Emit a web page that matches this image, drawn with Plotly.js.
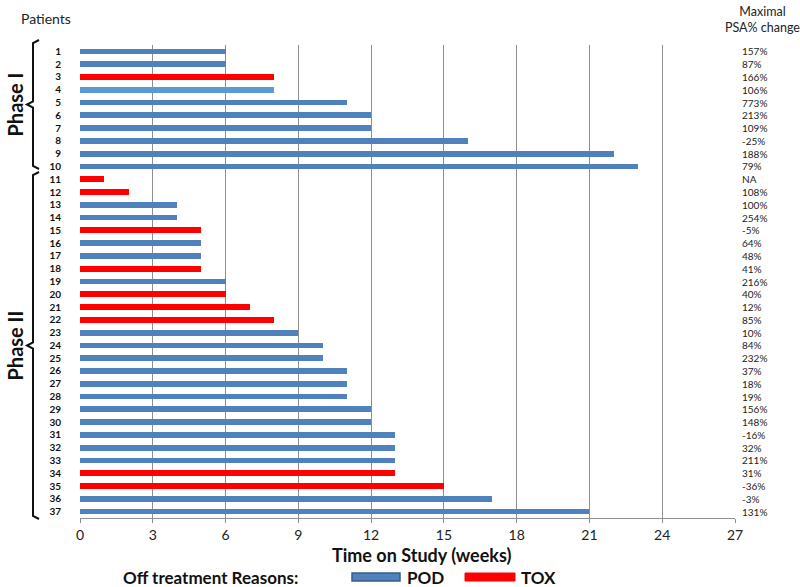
<!DOCTYPE html>
<html>
<head>
<meta charset="utf-8">
<script src="https://cdn.plot.ly/plotly-3.0.1.min.js"></script>
<style>html,body{margin:0;padding:0;background:#fff;}#chart{width:800px;height:587px;}</style>
</head>
<body>
<div id="chart"></div>
<script>
// ---- data ----
const patients = [1,2,3,4,5,6,7,8,9,10,11,12,13,14,15,16,17,18,19,20,21,22,23,24,25,26,27,28,29,30,31,32,33,34,35,36,37];
const weeks = [6,6,8,8,11,12,12,16,22,23,1,2,4,4,5,5,5,5,6,6,7,8,9,10,10,11,11,11,12,12,13,13,13,13,15,17,21];
const reasons = ["POD","POD","TOX","POD","POD","POD","POD","POD","POD","POD","TOX","TOX","POD","POD","TOX","POD","POD","TOX","POD","TOX","TOX","TOX","POD","POD","POD","POD","POD","POD","POD","POD","POD","POD","POD","TOX","TOX","POD","POD"];
const psaChange = ["157%","87%","166%","106%","773%","213%","109%","-25%","188%","79%","NA","108%","100%","254%","-5%","64%","48%","41%","216%","40%","12%","85%","10%","84%","232%","37%","18%","19%","156%","148%","-16%","32%","211%","31%","-36%","-3%","131%"];
const xTicks = [0,3,6,9,12,15,18,21,24,27];
const phases = [{name:"Phase I", first:1, last:10},{name:"Phase II", first:11, last:37}];

// ---- layout geometry ----
const W=800,H=587, L=80, R=65, T=45, B=69;
const pw=W-L-R, ph=H-T-B;
const px2x = p => (p-L)/pw;
const py2y = p => (H-B-p)/ph;
const FONT = "Lato, 'Open Sans', sans-serif";
const BLUE="#4F81BD", RED="#FF0000";

const colors = reasons.map((r,i)=> r==="TOX" ? RED : (patients[i]===4 ? "#5B9BD5" : BLUE));

const traces = [{
  type:"bar", orientation:"h",
  x: weeks, y: patients,
  width: 0.45,
  marker:{color: colors, line:{width:0}},
  hoverinfo:"x+y", showlegend:false
}];

const annotations = [];
psaChange.forEach((t,i)=>{
  annotations.push({xref:"paper", yref:"y", x:px2x(740), y:patients[i], text:t, showarrow:false,
    xanchor:"left", yanchor:"middle", font:{family:FONT,size:10,color:"#222"}});
});
annotations.push({xref:"paper",yref:"paper",x:px2x(46),y:py2y(18),text:"Patients",showarrow:false,
  xanchor:"center",yanchor:"middle",font:{family:FONT,size:14,color:"#222"}});
annotations.push({xref:"paper",yref:"paper",x:px2x(762),y:py2y(19),text:"Maximal<br>PSA% change",showarrow:false,
  xanchor:"center",yanchor:"middle",font:{family:FONT,size:12.5,color:"#222"}});
annotations.push({xref:"paper",yref:"paper",x:px2x(421),y:py2y(555),text:"<b>Time on Study (weeks)</b>",showarrow:false,
  xanchor:"center",yanchor:"middle",font:{family:FONT,size:18,color:"#111"}});
annotations.push({xref:"paper",yref:"paper",x:px2x(300),y:py2y(577),text:"<b>Off treatment Reasons:</b>",showarrow:false,
  xanchor:"right",yanchor:"middle",font:{family:FONT,size:17,color:"#111"}});
annotations.push({xref:"paper",yref:"paper",x:px2x(405),y:py2y(577),text:"<b>POD</b>",showarrow:false,
  xanchor:"left",yanchor:"middle",font:{family:FONT,size:17,color:"#111"}});
annotations.push({xref:"paper",yref:"paper",x:px2x(519),y:py2y(577),text:"<b>TOX</b>",showarrow:false,
  xanchor:"left",yanchor:"middle",font:{family:FONT,size:17,color:"#111"}});

const shapes = [];
// legend swatches
shapes.push({type:"rect",xref:"paper",yref:"paper",x0:px2x(352),x1:px2x(400),y0:py2y(573),y1:py2y(581),
  fillcolor:BLUE,line:{color:"#385D8A",width:1.5}});
shapes.push({type:"rect",xref:"paper",yref:"paper",x0:px2x(465),x1:px2x(515),y0:py2y(573),y1:py2y(581),
  fillcolor:RED,line:{color:RED,width:1}});

// phase braces
const braceBounds = [[40,169],[172,519]];
phases.forEach((ph_,k)=>{
  const top=braceBounds[k][0], bot=braceBounds[k][1], mid=(top+bot)/2;
  const vx=33;
  const path = `M ${px2x(vx+6)} ${py2y(top)} L ${px2x(vx)} ${py2y(top+3)} L ${px2x(vx)} ${py2y(mid-3)} L ${px2x(vx-6)} ${py2y(mid)} L ${px2x(vx)} ${py2y(mid+3)} L ${px2x(vx)} ${py2y(bot-3)} L ${px2x(vx+6)} ${py2y(bot)}`;
  shapes.push({type:"path",xref:"paper",yref:"paper",path:path,line:{color:"#111",width:2}});
  annotations.push({xref:"paper",yref:"paper",x:px2x(14),y:py2y(mid),text:"<b>"+ph_.name+"</b>",showarrow:false,
    textangle:-90,xanchor:"center",yanchor:"middle",font:{family:FONT,size:20,color:"#111"}});
});

const layout = {
  width:W,height:H,
  margin:{l:L,r:R,t:T,b:B,pad:0},
  paper_bgcolor:"#fff",plot_bgcolor:"#fff",
  bargap:0,
  xaxis:{range:[0,27],tickvals:xTicks,ticktext:xTicks.map(String),
    showgrid:true,gridcolor:"#8f8f8f",gridwidth:1,zeroline:false,
    showline:true,linecolor:"#8f8f8f",linewidth:1,
    ticks:"outside",ticklen:4,tickcolor:"#8f8f8f",ticklabelstandoff:0,
    tickfont:{family:FONT,size:14,color:"#222"},fixedrange:true},
  yaxis:{range:[37.5,0.5],tickvals:patients,ticktext:patients.map(p=>"<b>"+p+"</b>"),
    showgrid:false,zeroline:false,showline:false,ticks:"",
    ticklabelstandoff:18,
    tickfont:{family:FONT,size:10,color:"#111"},fixedrange:true},
  shapes:shapes,
  annotations:annotations,
  showlegend:false
};

Plotly.newPlot("chart",traces,layout,{displayModeBar:false,staticPlot:true});
</script>
</body>
</html>
